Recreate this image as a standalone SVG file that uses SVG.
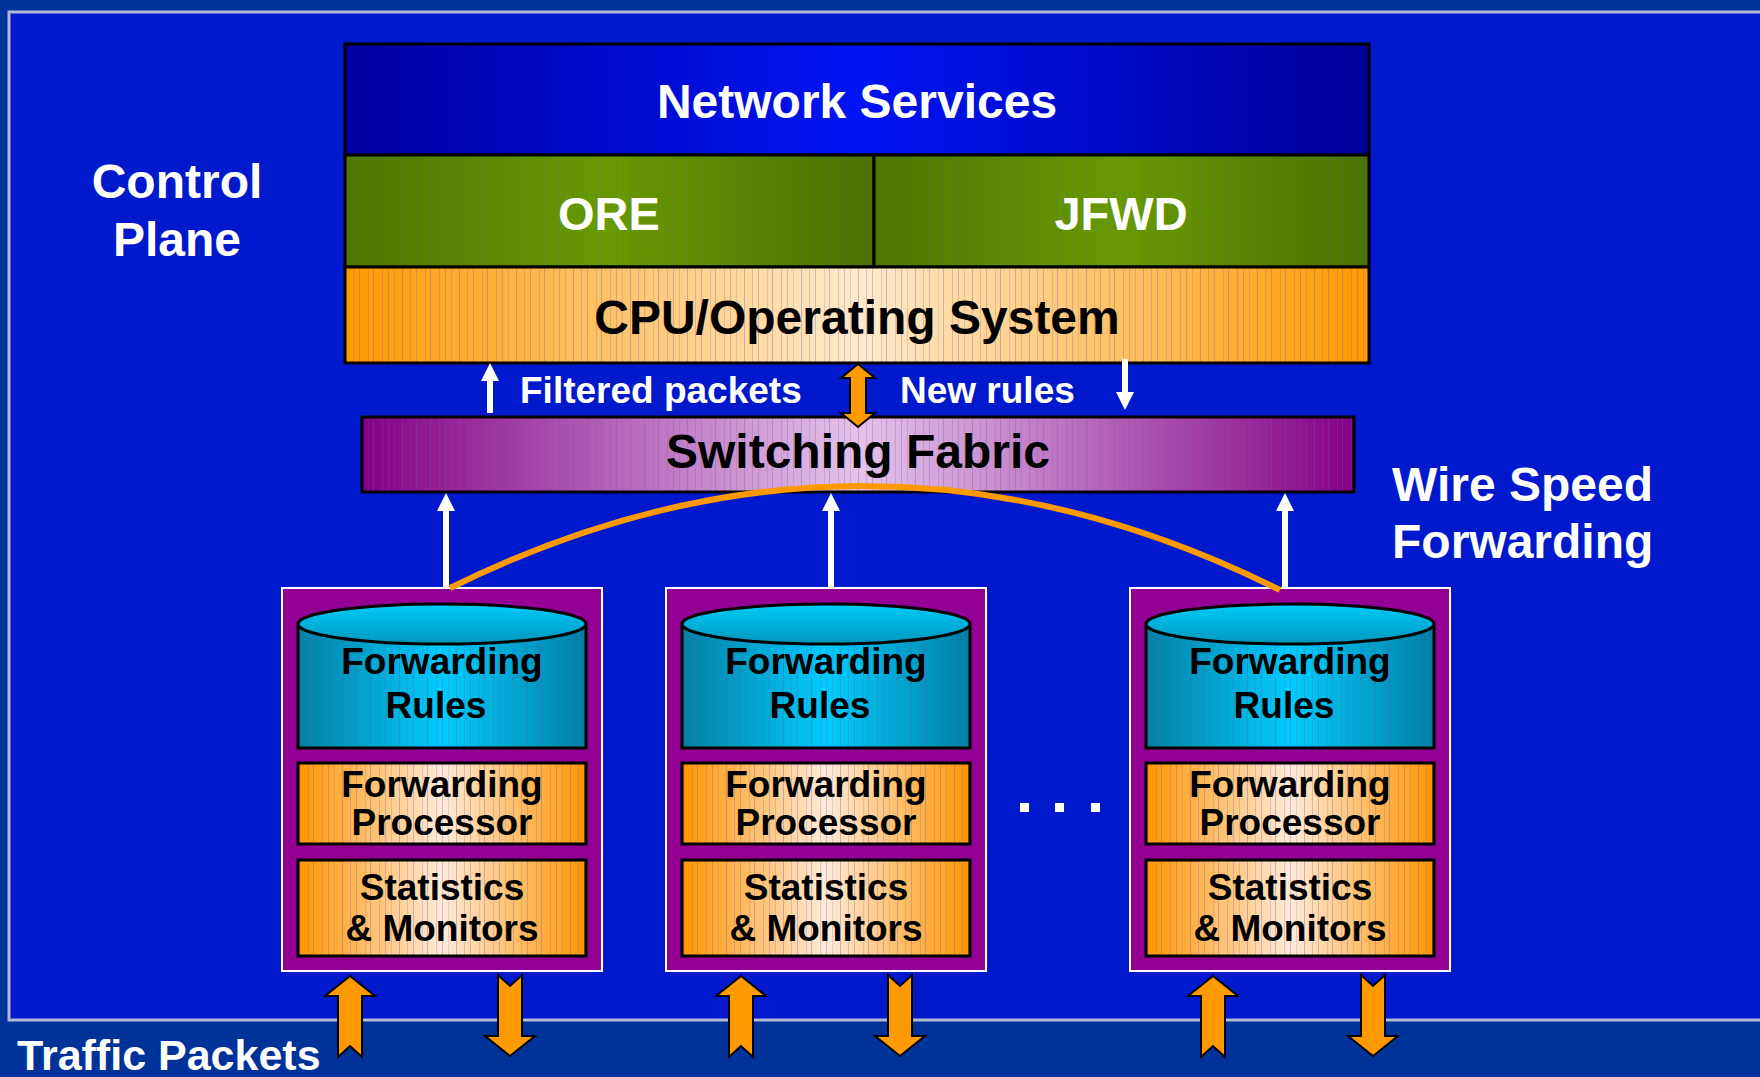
<svg xmlns="http://www.w3.org/2000/svg" xmlns:xlink="http://www.w3.org/1999/xlink" width="1760" height="1077" viewBox="0 0 1760 1077">
  <style>
    .lbl { font-family: "Liberation Sans", Arial, sans-serif; font-weight: bold; }
    .w { fill: #ffffff; }
    .k { fill: #000000; }
    .edge { stroke: #000000; stroke-width: 3; }
    .mod { font-size: 37px; text-anchor: middle; }
    .tex { fill: url(#stripes); pointer-events: none; }
  </style>
  <defs>
    <linearGradient id="gNS" x1="0" y1="0" x2="1" y2="0">
      <stop offset="0" stop-color="#0000A0"/>
      <stop offset="0.5" stop-color="#0014F4"/>
      <stop offset="1" stop-color="#000098"/>
    </linearGradient>
    <linearGradient id="gGreen" x1="0" y1="0" x2="1" y2="0">
      <stop offset="0" stop-color="#4E7700"/>
      <stop offset="0.5" stop-color="#689A00"/>
      <stop offset="1" stop-color="#4A7200"/>
    </linearGradient>
    <linearGradient id="gCPU" x1="0" y1="0" x2="1" y2="0">
      <stop offset="0" stop-color="#FF9900"/>
      <stop offset="0.5" stop-color="#FFEACC"/>
      <stop offset="1" stop-color="#FF9900"/>
    </linearGradient>
    <linearGradient id="gSF" x1="0" y1="0" x2="1" y2="0">
      <stop offset="0" stop-color="#850085"/>
      <stop offset="0.5" stop-color="#E4C4EA"/>
      <stop offset="1" stop-color="#850085"/>
    </linearGradient>
    <linearGradient id="gCyl" x1="0" y1="0" x2="1" y2="0">
      <stop offset="0" stop-color="#0080A4"/>
      <stop offset="0.5" stop-color="#00CCFF"/>
      <stop offset="1" stop-color="#0080A4"/>
    </linearGradient>
    <linearGradient id="gCylTop" x1="0" y1="0" x2="0" y2="1">
      <stop offset="0" stop-color="#00CCF8"/>
      <stop offset="1" stop-color="#0096BC"/>
    </linearGradient>
    <linearGradient id="gProc" x1="0" y1="0" x2="1" y2="0">
      <stop offset="0" stop-color="#FF9500"/>
      <stop offset="0.5" stop-color="#FFEAD8"/>
      <stop offset="1" stop-color="#FF9500"/>
    </linearGradient>
    <!-- fine vertical banding over the shaded boxes -->
    <pattern id="stripes" patternUnits="userSpaceOnUse" width="57" height="10">
      <rect x="3" y="0" width="1" height="10" fill="#6a5aa8" fill-opacity="0.35"/>
      <rect x="11" y="0" width="1" height="10" fill="#6a5aa8" fill-opacity="0.25"/>
      <rect x="17" y="0" width="1" height="10" fill="#6a5aa8" fill-opacity="0.3"/>
      <rect x="26" y="0" width="1" height="10" fill="#6a5aa8" fill-opacity="0.2"/>
      <rect x="31" y="0" width="1" height="10" fill="#6a5aa8" fill-opacity="0.35"/>
      <rect x="40" y="0" width="1" height="10" fill="#6a5aa8" fill-opacity="0.25"/>
      <rect x="46" y="0" width="1" height="10" fill="#6a5aa8" fill-opacity="0.3"/>
      <rect x="52" y="0" width="1" height="10" fill="#6a5aa8" fill-opacity="0.2"/>
    </pattern>
    <!-- block arrows for traffic in / out -->
    <path id="trafficUp" d="M0,976 L25,996 L12,996 L12,1057 L0,1046 L-12,1057 L-12,996 L-25,996 Z" fill="#FF9900" stroke="#000" stroke-width="2" stroke-linejoin="miter"/>
    <path id="trafficDown" d="M-12,975 L0,986 L12,975 L12,1036 L25,1036 L0,1056 L-25,1036 L-12,1036 Z" fill="#FF9900" stroke="#000" stroke-width="2" stroke-linejoin="miter"/>
    <path id="upToFabric" d="M0,493 L9,511 L3,511 L3,587 L-3,587 L-3,511 L-9,511 Z" fill="#ffffff"/>
  </defs>

  <!-- slide background and panel -->
  <rect x="0" y="0" width="1760" height="1077" fill="#003399"/>
  <rect x="9" y="12" width="1800" height="1008" fill="#0019CC" stroke="#B4B8D0" stroke-width="3"/>

  <!-- side labels -->
  <g id="label-control-plane" class="lbl w" font-size="48" text-anchor="middle">
    <text x="177" y="198">Control</text>
    <text x="177" y="256">Plane</text>
  </g>
  <g id="label-wire-speed" class="lbl w" font-size="48">
    <text x="1392" y="501">Wire Speed</text>
    <text x="1392" y="558">Forwarding</text>
  </g>
  <g id="label-traffic" class="lbl w" font-size="43">
    <text x="17" y="1070">Traffic Packets</text>
  </g>

  <!-- control plane stack -->
  <g id="network-services">
    <rect x="345" y="44" width="1024" height="111" fill="url(#gNS)" class="edge"/>
    <text x="857" y="118" class="lbl w" font-size="48" text-anchor="middle">Network Services</text>
  </g>
  <g id="ore">
    <rect x="345" y="155" width="529" height="112" fill="url(#gGreen)"/>
    <rect x="345" y="155" width="529" height="112" class="tex" opacity="0.6"/>
    <rect x="345" y="155" width="529" height="112" fill="none" class="edge"/>
    <text x="609" y="230" class="lbl w" font-size="47" text-anchor="middle">ORE</text>
  </g>
  <g id="jfwd">
    <rect x="874" y="155" width="495" height="112" fill="url(#gGreen)"/>
    <rect x="874" y="155" width="495" height="112" class="tex" opacity="0.6"/>
    <rect x="874" y="155" width="495" height="112" fill="none" class="edge"/>
    <text x="1121" y="230" class="lbl w" font-size="47" text-anchor="middle">JFWD</text>
  </g>
  <g id="cpu-os">
    <rect x="345" y="267" width="1024" height="96" fill="url(#gCPU)"/>
    <rect x="345" y="267" width="1024" height="96" class="tex"/>
    <rect x="345" y="267" width="1024" height="96" fill="none" class="edge"/>
    <text x="857" y="334" class="lbl k" font-size="48" text-anchor="middle">CPU/Operating System</text>
  </g>

  <!-- switching fabric -->
  <g id="switching-fabric">
    <rect x="362" y="417" width="992" height="75" fill="url(#gSF)"/>
    <rect x="362" y="417" width="992" height="75" class="tex"/>
    <rect x="362" y="417" width="992" height="75" fill="none" class="edge"/>
    <text x="858" y="468" class="lbl k" font-size="48" text-anchor="middle">Switching Fabric</text>
  </g>

  <!-- forwarding line cards -->
  <g id="linecard-1" transform="translate(282,0)">
    <rect x="0" y="588" width="320" height="383" fill="#930093" stroke="#ffffff" stroke-width="2"/>
    <path d="M16,624 L16,748 L304,748 L304,624 Z" fill="url(#gCyl)"/>
    <path d="M16,624 L16,748 L304,748 L304,624 Z" class="tex"/>
    <path d="M16,624 L16,748 L304,748 L304,624" fill="none" class="edge"/>
    <ellipse cx="160" cy="624" rx="144" ry="20" fill="url(#gCylTop)" class="edge"/>
    <rect x="16" y="763" width="288" height="81" fill="url(#gProc)"/>
    <rect x="16" y="763" width="288" height="81" class="tex"/>
    <rect x="16" y="763" width="288" height="81" fill="none" class="edge"/>
    <rect x="16" y="860" width="288" height="96" fill="url(#gProc)"/>
    <rect x="16" y="860" width="288" height="96" class="tex"/>
    <rect x="16" y="860" width="288" height="96" fill="none" class="edge"/>
    <g class="lbl k mod">
      <text x="160" y="674">Forwarding</text>
      <text x="154" y="718">Rules</text>
      <text x="160" y="797">Forwarding</text>
      <text x="160" y="835">Processor</text>
      <text x="160" y="900">Statistics</text>
      <text x="160" y="941">&amp; Monitors</text>
    </g>
  </g>
  <g id="linecard-2" transform="translate(666,0)">
    <rect x="0" y="588" width="320" height="383" fill="#930093" stroke="#ffffff" stroke-width="2"/>
    <path d="M16,624 L16,748 L304,748 L304,624 Z" fill="url(#gCyl)"/>
    <path d="M16,624 L16,748 L304,748 L304,624 Z" class="tex"/>
    <path d="M16,624 L16,748 L304,748 L304,624" fill="none" class="edge"/>
    <ellipse cx="160" cy="624" rx="144" ry="20" fill="url(#gCylTop)" class="edge"/>
    <rect x="16" y="763" width="288" height="81" fill="url(#gProc)"/>
    <rect x="16" y="763" width="288" height="81" class="tex"/>
    <rect x="16" y="763" width="288" height="81" fill="none" class="edge"/>
    <rect x="16" y="860" width="288" height="96" fill="url(#gProc)"/>
    <rect x="16" y="860" width="288" height="96" class="tex"/>
    <rect x="16" y="860" width="288" height="96" fill="none" class="edge"/>
    <g class="lbl k mod">
      <text x="160" y="674">Forwarding</text>
      <text x="154" y="718">Rules</text>
      <text x="160" y="797">Forwarding</text>
      <text x="160" y="835">Processor</text>
      <text x="160" y="900">Statistics</text>
      <text x="160" y="941">&amp; Monitors</text>
    </g>
  </g>
  <g id="linecard-n" transform="translate(1130,0)">
    <rect x="0" y="588" width="320" height="383" fill="#930093" stroke="#ffffff" stroke-width="2"/>
    <path d="M16,624 L16,748 L304,748 L304,624 Z" fill="url(#gCyl)"/>
    <path d="M16,624 L16,748 L304,748 L304,624 Z" class="tex"/>
    <path d="M16,624 L16,748 L304,748 L304,624" fill="none" class="edge"/>
    <ellipse cx="160" cy="624" rx="144" ry="20" fill="url(#gCylTop)" class="edge"/>
    <rect x="16" y="763" width="288" height="81" fill="url(#gProc)"/>
    <rect x="16" y="763" width="288" height="81" class="tex"/>
    <rect x="16" y="763" width="288" height="81" fill="none" class="edge"/>
    <rect x="16" y="860" width="288" height="96" fill="url(#gProc)"/>
    <rect x="16" y="860" width="288" height="96" class="tex"/>
    <rect x="16" y="860" width="288" height="96" fill="none" class="edge"/>
    <g class="lbl k mod">
      <text x="160" y="674">Forwarding</text>
      <text x="154" y="718">Rules</text>
      <text x="160" y="797">Forwarding</text>
      <text x="160" y="835">Processor</text>
      <text x="160" y="900">Statistics</text>
      <text x="160" y="941">&amp; Monitors</text>
    </g>
  </g>

  <!-- ellipsis between cards -->
  <g id="ellipsis" fill="#ffffff">
    <rect x="1020" y="803" width="9" height="9"/>
    <rect x="1055" y="803" width="9" height="9"/>
    <rect x="1091" y="803" width="9" height="9"/>
  </g>

  <!-- connectors -->
  <g id="connectors">
    <!-- card-to-card path through the fabric -->
    <path d="M450,588 Q865,383 1280,590" fill="none" stroke="#FF9900" stroke-width="6"/>
    <use xlink:href="#upToFabric" x="446"/>
    <use xlink:href="#upToFabric" x="831"/>
    <use xlink:href="#upToFabric" x="1285"/>
    <!-- fabric to control plane -->
    <path d="M490,363 L499,381 L493,381 L493,413 L487,413 L487,381 L481,381 Z" fill="#ffffff"/>
    <path d="M1125,410 L1116,392 L1122,392 L1122,359 L1128,359 L1128,392 L1134,392 Z" fill="#ffffff"/>
    <path d="M858,364 L875,378 L866,378 L866,413 L875,413 L858,427 L841,413 L850,413 L850,378 L841,378 Z" fill="#FF9900" stroke="#000" stroke-width="2"/>
    <!-- traffic in / out of each card -->
    <use xlink:href="#trafficUp" x="350"/>
    <use xlink:href="#trafficDown" x="510"/>
    <use xlink:href="#trafficUp" x="741"/>
    <use xlink:href="#trafficDown" x="900"/>
    <use xlink:href="#trafficUp" x="1213"/>
    <use xlink:href="#trafficDown" x="1373"/>
  </g>

  <!-- edge labels -->
  <g id="fabric-labels" class="lbl w" font-size="37">
    <text x="520" y="403">Filtered packets</text>
    <text x="900" y="403">New rules</text>
  </g>
</svg>
